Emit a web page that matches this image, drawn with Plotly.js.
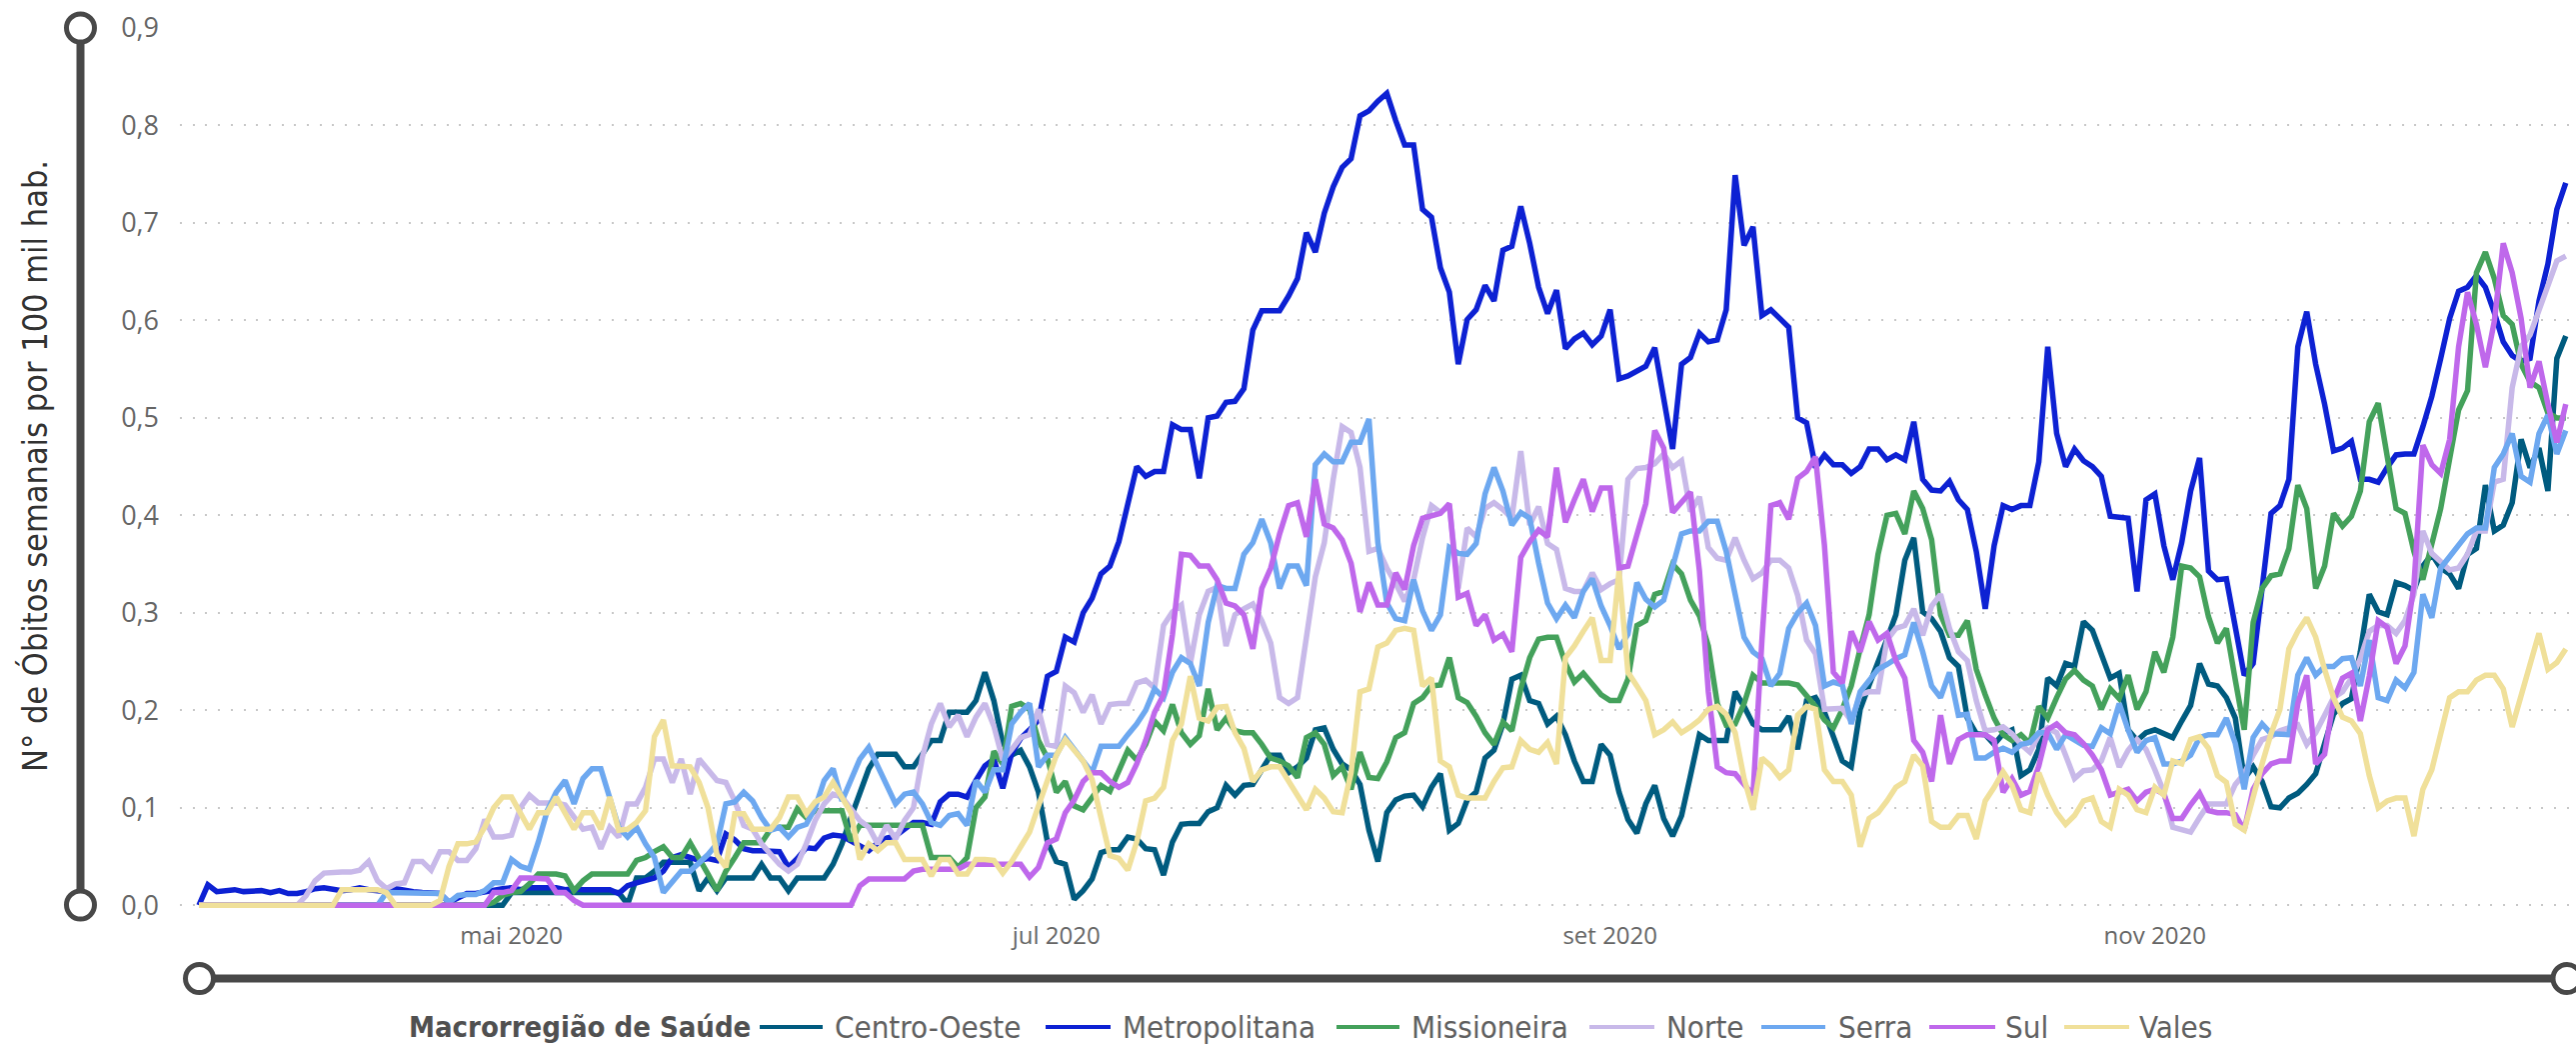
<!DOCTYPE html>
<html>
<head>
<meta charset="utf-8">
<script src="https://cdn.plot.ly/plotly-3.0.1.min.js"></script>
<style>
  html, body { margin: 0; padding: 0; background: #ffffff; }
  #chart { width: 2577px; height: 1045px; }
</style>
</head>
<body>
<div id="chart"></div>
<script>
// ================= DATA =================
// daily series, first value is 27 mar 2020
const firstDay = [2020, 2, 27];

const regions = ['Centro-Oeste', 'Metropolitana', 'Missioneira', 'Norte', 'Serra', 'Sul', 'Vales'];
const colors = ['#005B7F', '#0D21D3', '#44A15B', '#C8B9E9', '#6DA8F0', '#BF68EB', '#F0E09A'];

const xTickDates = ['2020-05-01', '2020-07-01', '2020-09-01', '2020-11-01'];
const xTickText = ['mai 2020', 'jul 2020', 'set 2020', 'nov 2020'];
const yTicks = [0, 0.1, 0.2, 0.3, 0.4, 0.5, 0.6, 0.7, 0.8, 0.9];

const centroOeste = [
  0, 0, 0, 0, 0, 0, 0, 0, 0, 0,
  0, 0, 0, 0, 0, 0, 0, 0, 0, 0,
  0, 0, 0, 0, 0, 0, 0, 0, 0, 0,
  0, 0, 0, 0, 0, 0.013, 0.013, 0.013, 0.013, 0.013,
  0.013, 0.013, 0.013, 0.013, 0.013, 0.013, 0.013, 0.013, 0.001, 0.028,
  0.028, 0.035, 0.044, 0.044, 0.044, 0.044, 0.015, 0.028, 0.015, 0.028,
  0.028, 0.028, 0.028, 0.042, 0.028, 0.028, 0.015, 0.028, 0.028, 0.028,
  0.028, 0.042, 0.063, 0.09, 0.114, 0.14, 0.155, 0.155, 0.155, 0.142,
  0.142, 0.155, 0.169, 0.169, 0.198, 0.198, 0.198, 0.21, 0.239, 0.21,
  0.166, 0.154, 0.159, 0.142, 0.116, 0.065, 0.045, 0.042, 0.006, 0.015,
  0.027, 0.054, 0.057, 0.057, 0.07, 0.068, 0.058, 0.057, 0.031, 0.065,
  0.083, 0.084, 0.084, 0.096, 0.1, 0.123, 0.113, 0.123, 0.124, 0.139,
  0.154, 0.154, 0.136, 0.142, 0.151, 0.18, 0.182, 0.16, 0.145, 0.139,
  0.124, 0.077, 0.045, 0.095, 0.108, 0.112, 0.113, 0.101, 0.121, 0.135,
  0.077, 0.084, 0.108, 0.116, 0.151, 0.159, 0.186, 0.232, 0.236, 0.21,
  0.207, 0.186, 0.194, 0.175, 0.148, 0.127, 0.127, 0.165, 0.154, 0.116,
  0.088, 0.074, 0.104, 0.123, 0.089, 0.071, 0.092, 0.133, 0.175, 0.169,
  0.169, 0.169, 0.219, 0.204, 0.186, 0.18, 0.18, 0.18, 0.194, 0.16,
  0.21, 0.213, 0.198, 0.173, 0.148, 0.142, 0.201, 0.226, 0.248, 0.273,
  0.298, 0.354, 0.377, 0.301, 0.294, 0.281, 0.254, 0.245, 0.192, 0.176,
  0.175, 0.165, 0.176, 0.18, 0.133, 0.139, 0.16, 0.233, 0.225, 0.248,
  0.245, 0.291, 0.282, 0.257, 0.233, 0.238, 0.18, 0.169, 0.177, 0.18,
  0.176, 0.172, 0.189, 0.205, 0.248, 0.227, 0.225, 0.213, 0.192, 0.13,
  0.142, 0.127, 0.101, 0.1, 0.11, 0.115, 0.124, 0.135, 0.166, 0.196,
  0.207, 0.212, 0.26, 0.319, 0.301, 0.298, 0.331, 0.328, 0.323, 0.348,
  0.36, 0.346, 0.34, 0.325, 0.36, 0.366, 0.431, 0.384, 0.39, 0.413,
  0.478, 0.449, 0.469, 0.425, 0.561, 0.584
];

const metropolitana = [
  0, 0.021, 0.014, 0.015, 0.016, 0.014, 0.015, 0.015, 0.013, 0.015,
  0.012, 0.012, 0.014, 0.017, 0.018, 0.017, 0.015, 0.016, 0.018, 0.016,
  0.015, 0.014, 0.017, 0.015, 0.014, 0.013, 0.013, 0.012, 0.003, 0.008,
  0.012, 0.012, 0.014, 0.016, 0.017, 0.018, 0.016, 0.018, 0.018, 0.017,
  0.018, 0.016, 0.017, 0.016, 0.016, 0.016, 0.016, 0.012, 0.02, 0.023,
  0.026, 0.028, 0.035, 0.049, 0.052, 0.049, 0.046, 0.048, 0.046, 0.073,
  0.067, 0.058, 0.056, 0.056, 0.056, 0.055, 0.039, 0.048, 0.059, 0.058,
  0.069, 0.072, 0.071, 0.066, 0.061, 0.056, 0.064, 0.069, 0.071, 0.078,
  0.085, 0.085, 0.083, 0.106, 0.114, 0.114, 0.111, 0.128, 0.143, 0.15,
  0.12, 0.156, 0.171, 0.18, 0.19, 0.235, 0.24, 0.275, 0.27, 0.3,
  0.315, 0.34, 0.348, 0.373, 0.41, 0.45, 0.44, 0.445, 0.445, 0.493,
  0.488, 0.488, 0.438, 0.5, 0.502, 0.516, 0.517, 0.53, 0.59, 0.61,
  0.61, 0.61, 0.625, 0.643, 0.69, 0.67, 0.71, 0.737, 0.757, 0.766,
  0.81, 0.815, 0.825, 0.833, 0.805, 0.78, 0.78, 0.714, 0.706, 0.654,
  0.629, 0.555, 0.601, 0.611, 0.636, 0.62, 0.672, 0.676, 0.717, 0.679,
  0.634, 0.607, 0.631, 0.571, 0.581, 0.587, 0.575, 0.584, 0.611, 0.54,
  0.543, 0.548, 0.553, 0.572, 0.522, 0.468, 0.555, 0.562, 0.587, 0.578,
  0.58, 0.611, 0.749, 0.677, 0.696, 0.605, 0.611, 0.602, 0.593, 0.5,
  0.495, 0.449, 0.462, 0.452, 0.452, 0.443, 0.45, 0.468, 0.468, 0.457,
  0.462, 0.457, 0.496, 0.437, 0.426, 0.425, 0.435, 0.416, 0.406, 0.363,
  0.304, 0.369, 0.41, 0.406, 0.41, 0.41, 0.455, 0.573, 0.484, 0.45,
  0.468, 0.456, 0.45, 0.44, 0.399, 0.398, 0.397, 0.322, 0.416, 0.422,
  0.369, 0.334, 0.372, 0.425, 0.459, 0.343, 0.334, 0.335, 0.284, 0.236,
  0.248, 0.325, 0.402, 0.41, 0.437, 0.573, 0.609, 0.555, 0.514, 0.466,
  0.469, 0.476, 0.437, 0.437, 0.434, 0.449, 0.462, 0.463, 0.463, 0.491,
  0.522, 0.561, 0.602, 0.63, 0.634, 0.646, 0.634, 0.608, 0.578, 0.564,
  0.558, 0.561, 0.62, 0.658, 0.714, 0.741
];

const missioneira = [
  0, 0, 0, 0, 0, 0, 0, 0, 0, 0,
  0, 0, 0, 0, 0, 0, 0, 0, 0, 0,
  0, 0, 0, 0, 0, 0, 0, 0, 0, 0,
  0, 0, 0, 0.003, 0.01, 0.013, 0.014, 0.022, 0.032, 0.032,
  0.032, 0.03, 0.015, 0.025, 0.032, 0.032, 0.032, 0.032, 0.032, 0.046,
  0.049, 0.055, 0.06, 0.049, 0.049, 0.064, 0.049, 0.032, 0.015, 0.035,
  0.049, 0.064, 0.064, 0.064, 0.078, 0.08, 0.08, 0.099, 0.09, 0.097,
  0.097, 0.097, 0.097, 0.066, 0.082, 0.082, 0.082, 0.082, 0.082, 0.082,
  0.082, 0.082, 0.049, 0.049, 0.049, 0.039, 0.049, 0.1, 0.111, 0.158,
  0.145, 0.204, 0.207, 0.201, 0.169, 0.151, 0.116, 0.127, 0.102, 0.098,
  0.111, 0.123, 0.117, 0.139, 0.159, 0.149, 0.165, 0.189, 0.179, 0.206,
  0.177, 0.165, 0.174, 0.222, 0.18, 0.192, 0.179, 0.177, 0.177, 0.165,
  0.151, 0.148, 0.143, 0.131, 0.172, 0.177, 0.165, 0.133, 0.142, 0.119,
  0.157, 0.131, 0.13, 0.147, 0.172, 0.177, 0.207, 0.213, 0.225, 0.226,
  0.254, 0.213, 0.208, 0.194, 0.177, 0.165, 0.188, 0.179, 0.222, 0.254,
  0.273, 0.275, 0.275, 0.248, 0.229, 0.238, 0.228, 0.216, 0.21, 0.21,
  0.232, 0.287, 0.292, 0.319, 0.322, 0.35, 0.34, 0.313, 0.297, 0.266,
  0.207, 0.185, 0.186, 0.207, 0.236, 0.228, 0.228, 0.228, 0.228, 0.226,
  0.215, 0.204, 0.19, 0.182, 0.201, 0.225, 0.263, 0.298, 0.36, 0.4,
  0.402, 0.381, 0.425, 0.407, 0.375, 0.298, 0.277, 0.277, 0.292, 0.242,
  0.216, 0.192, 0.175, 0.169, 0.175, 0.166, 0.204, 0.192, 0.213, 0.232,
  0.241, 0.231, 0.225, 0.201, 0.222, 0.212, 0.236, 0.201, 0.219, 0.26,
  0.239, 0.275, 0.348, 0.346, 0.337, 0.296, 0.269, 0.284, 0.231, 0.18,
  0.29, 0.325, 0.338, 0.34, 0.366, 0.431, 0.407, 0.325, 0.348, 0.402,
  0.389, 0.399, 0.425, 0.496, 0.515, 0.46, 0.407, 0.402, 0.363, 0.334,
  0.372, 0.407, 0.458, 0.508, 0.528, 0.649, 0.67, 0.643, 0.605, 0.596,
  0.555, 0.537, 0.531, 0.505, 0.5, 0.5
];

const norte = [
  0, 0, 0, 0, 0, 0, 0, 0, 0, 0,
  0, 0, 0.01, 0.025, 0.033, 0.034, 0.034, 0.034, 0.036, 0.045,
  0.025, 0.017, 0.022, 0.023, 0.045, 0.045, 0.036, 0.055, 0.055, 0.046,
  0.046, 0.058, 0.088, 0.07, 0.07, 0.072, 0.1, 0.113, 0.105, 0.105,
  0.105, 0.103, 0.09, 0.078, 0.08, 0.058, 0.08, 0.07, 0.104, 0.104,
  0.121, 0.15, 0.15, 0.126, 0.15, 0.114, 0.15, 0.14, 0.128, 0.126,
  0.107, 0.082, 0.078, 0.063, 0.052, 0.042, 0.035, 0.042, 0.063, 0.087,
  0.104, 0.114, 0.111, 0.1, 0.087, 0.08, 0.063, 0.082, 0.068, 0.087,
  0.1, 0.152, 0.186, 0.207, 0.183, 0.195, 0.173, 0.193, 0.207, 0.184,
  0.149, 0.16, 0.172, 0.175, 0.201, 0.165, 0.163, 0.225, 0.218, 0.198,
  0.216, 0.186, 0.206, 0.207, 0.207, 0.228, 0.231, 0.223, 0.287, 0.301,
  0.308, 0.248, 0.298, 0.322, 0.326, 0.266, 0.298, 0.304, 0.309, 0.292,
  0.269, 0.213, 0.207, 0.213, 0.272, 0.337, 0.372, 0.437, 0.491, 0.485,
  0.449, 0.363, 0.366, 0.346, 0.33, 0.312, 0.334, 0.377, 0.41, 0.403,
  0.41, 0.325, 0.387, 0.378, 0.407, 0.413, 0.406, 0.397, 0.466, 0.39,
  0.409, 0.371, 0.365, 0.325, 0.322, 0.322, 0.341, 0.324, 0.33, 0.334,
  0.437, 0.448, 0.449, 0.453, 0.463, 0.449, 0.456, 0.404, 0.419, 0.367,
  0.356, 0.354, 0.377, 0.354, 0.335, 0.341, 0.354, 0.354, 0.346, 0.318,
  0.272, 0.258, 0.201, 0.201, 0.202, 0.189, 0.216, 0.219, 0.219, 0.272,
  0.284, 0.287, 0.304, 0.277, 0.307, 0.319, 0.284, 0.26, 0.251, 0.21,
  0.179, 0.18, 0.183, 0.176, 0.165, 0.157, 0.175, 0.182, 0.177, 0.154,
  0.13, 0.138, 0.139, 0.148, 0.172, 0.142, 0.159, 0.17, 0.16, 0.139,
  0.116, 0.08, 0.078, 0.075, 0.09, 0.104, 0.104, 0.104, 0.124, 0.135,
  0.154, 0.17, 0.173, 0.179, 0.182, 0.185, 0.165, 0.177, 0.195, 0.213,
  0.219, 0.233, 0.253, 0.281, 0.287, 0.287, 0.279, 0.292, 0.319, 0.384,
  0.361, 0.353, 0.344, 0.346, 0.36, 0.384, 0.384, 0.434, 0.437, 0.531,
  0.573, 0.585, 0.611, 0.634, 0.661, 0.666
];

const serra = [
  0, 0, 0, 0, 0, 0, 0, 0, 0, 0,
  0, 0, 0, 0, 0, 0, 0, 0, 0, 0,
  0, 0.013, 0.013, 0.013, 0.013, 0.013, 0.013, 0.012, 0.003, 0.01,
  0.011, 0.011, 0.015, 0.023, 0.023, 0.047, 0.04, 0.037, 0.065, 0.097,
  0.116, 0.128, 0.104, 0.13, 0.14, 0.14, 0.11, 0.08, 0.07, 0.08,
  0.063, 0.049, 0.013, 0.025, 0.035, 0.035, 0.044, 0.052, 0.063, 0.104,
  0.106, 0.116, 0.107, 0.09, 0.077, 0.08, 0.07, 0.08, 0.083, 0.1,
  0.128, 0.14, 0.107, 0.128, 0.15, 0.162, 0.142, 0.121, 0.104, 0.114,
  0.116, 0.104, 0.085, 0.082, 0.092, 0.094, 0.082, 0.128, 0.116, 0.139,
  0.139, 0.186, 0.198, 0.207, 0.142, 0.154, 0.154, 0.172, 0.16, 0.148,
  0.136, 0.163, 0.163, 0.163, 0.175, 0.186, 0.2, 0.222, 0.213, 0.239,
  0.254, 0.248, 0.225, 0.29, 0.328, 0.325, 0.325, 0.36, 0.372, 0.396,
  0.372, 0.325, 0.348, 0.348, 0.328, 0.452, 0.463, 0.455, 0.455, 0.475,
  0.475, 0.499, 0.372, 0.31, 0.294, 0.292, 0.334, 0.302, 0.282, 0.298,
  0.367, 0.361, 0.36, 0.371, 0.422, 0.449, 0.425, 0.39, 0.403, 0.397,
  0.351, 0.31, 0.294, 0.308, 0.295, 0.322, 0.335, 0.307, 0.287, 0.263,
  0.278, 0.331, 0.314, 0.306, 0.313, 0.346, 0.381, 0.384, 0.384, 0.394,
  0.394, 0.363, 0.319, 0.275, 0.26, 0.253, 0.225, 0.238, 0.284, 0.3,
  0.31, 0.287, 0.225, 0.229, 0.226, 0.186, 0.219, 0.231, 0.242, 0.247,
  0.253, 0.257, 0.29, 0.26, 0.225, 0.213, 0.239, 0.195, 0.196, 0.151,
  0.151, 0.157, 0.161, 0.157, 0.165, 0.167, 0.177, 0.177, 0.16, 0.175,
  0.17, 0.164, 0.163, 0.182, 0.176, 0.207, 0.18, 0.157, 0.169, 0.172,
  0.145, 0.145, 0.148, 0.154, 0.172, 0.175, 0.175, 0.192, 0.166, 0.119,
  0.172, 0.186, 0.176, 0.175, 0.175, 0.236, 0.254, 0.236, 0.245, 0.245,
  0.253, 0.254, 0.225, 0.272, 0.213, 0.21, 0.231, 0.223, 0.239, 0.319,
  0.295, 0.346, 0.357, 0.369, 0.381, 0.387, 0.387, 0.449, 0.463, 0.484,
  0.44, 0.434, 0.484, 0.503, 0.463, 0.487
];

const sul = [
  0, 0, 0, 0, 0, 0, 0, 0, 0, 0,
  0, 0, 0, 0, 0, 0, 0, 0, 0, 0,
  0, 0, 0, 0, 0, 0, 0, 0, 0, 0,
  0, 0, 0, 0.013, 0.013, 0.015, 0.028, 0.028, 0.028, 0.027,
  0.013, 0.013, 0.005, 0, 0, 0, 0, 0, 0, 0,
  0, 0, 0, 0, 0, 0, 0, 0, 0, 0,
  0, 0, 0, 0, 0, 0, 0, 0, 0, 0,
  0, 0, 0, 0, 0.02, 0.027, 0.027, 0.027, 0.027, 0.027,
  0.035, 0.037, 0.037, 0.037, 0.037, 0.037, 0.042, 0.042, 0.042, 0.042,
  0.042, 0.042, 0.042, 0.029, 0.039, 0.064, 0.068, 0.095, 0.108, 0.127,
  0.136, 0.136, 0.127, 0.121, 0.126, 0.145, 0.169, 0.198, 0.216, 0.278,
  0.36, 0.359, 0.348, 0.348, 0.334, 0.31, 0.307, 0.298, 0.263, 0.325,
  0.346, 0.381, 0.41, 0.413, 0.378, 0.437, 0.391, 0.387, 0.375, 0.351,
  0.301, 0.331, 0.308, 0.308, 0.341, 0.324, 0.369, 0.397, 0.4, 0.402,
  0.412, 0.316, 0.32, 0.287, 0.298, 0.272, 0.278, 0.26, 0.357, 0.373,
  0.385, 0.378, 0.449, 0.393, 0.416, 0.437, 0.404, 0.428, 0.428, 0.346,
  0.348, 0.379, 0.412, 0.487, 0.469, 0.403, 0.413, 0.424, 0.343, 0.219,
  0.142, 0.136, 0.135, 0.124, 0.113, 0.272, 0.41, 0.413, 0.396, 0.438,
  0.445, 0.46, 0.369, 0.239, 0.228, 0.281, 0.26, 0.291, 0.272, 0.279,
  0.251, 0.233, 0.169, 0.157, 0.127, 0.195, 0.145, 0.17, 0.175, 0.175,
  0.175, 0.169, 0.116, 0.13, 0.113, 0.117, 0.143, 0.18, 0.186, 0.177,
  0.175, 0.166, 0.154, 0.139, 0.113, 0.116, 0.119, 0.107, 0.116, 0.119,
  0.114, 0.089, 0.089, 0.103, 0.115, 0.097, 0.095, 0.095, 0.093, 0.077,
  0.119, 0.135, 0.145, 0.148, 0.148, 0.207, 0.236, 0.145, 0.155, 0.21,
  0.233, 0.238, 0.189, 0.235, 0.292, 0.285, 0.248, 0.266, 0.328, 0.472,
  0.452, 0.443, 0.478, 0.573, 0.629, 0.596, 0.552, 0.599, 0.679, 0.649,
  0.602, 0.531, 0.558, 0.514, 0.475, 0.514
];

const vales = [
  0, 0, 0, 0, 0, 0, 0, 0, 0, 0,
  0, 0, 0, 0, 0, 0, 0.016, 0.016, 0.016, 0.016,
  0.016, 0.013, 0, 0, 0, 0, 0, 0.005, 0.04, 0.063,
  0.063, 0.065, 0.08, 0.1, 0.111, 0.111, 0.095, 0.078, 0.095, 0.095,
  0.111, 0.095, 0.078, 0.095, 0.095, 0.078, 0.111, 0.077, 0.078, 0.085,
  0.097, 0.173, 0.19, 0.143, 0.143, 0.142, 0.126, 0.1, 0.052, 0.039,
  0.094, 0.094, 0.078, 0.078, 0.078, 0.09, 0.111, 0.111, 0.094, 0.106,
  0.111, 0.126, 0.111, 0.095, 0.047, 0.063, 0.056, 0.064, 0.064, 0.047,
  0.047, 0.047, 0.03, 0.047, 0.047, 0.032, 0.032, 0.047, 0.047, 0.046,
  0.033, 0.045, 0.06, 0.075, 0.102, 0.13, 0.154, 0.17, 0.16, 0.148,
  0.129, 0.089, 0.051, 0.048, 0.036, 0.065, 0.107, 0.11, 0.121, 0.169,
  0.186, 0.235, 0.192, 0.189, 0.203, 0.204, 0.177, 0.161, 0.127, 0.139,
  0.142, 0.142, 0.127, 0.113, 0.098, 0.119, 0.11, 0.096, 0.095, 0.136,
  0.219, 0.222, 0.265, 0.269, 0.282, 0.284, 0.282, 0.225, 0.233, 0.148,
  0.142, 0.113, 0.11, 0.11, 0.11, 0.127, 0.141, 0.142, 0.169, 0.16,
  0.157, 0.167, 0.145, 0.254, 0.266, 0.281, 0.295, 0.251, 0.251, 0.343,
  0.239, 0.225, 0.21, 0.175, 0.18, 0.188, 0.177, 0.183, 0.19, 0.201,
  0.204, 0.196, 0.177, 0.13, 0.098, 0.151, 0.143, 0.131, 0.139, 0.195,
  0.204, 0.201, 0.139, 0.127, 0.127, 0.113, 0.06, 0.089, 0.095, 0.107,
  0.121, 0.127, 0.154, 0.143, 0.086, 0.08, 0.08, 0.092, 0.092, 0.068,
  0.107, 0.121, 0.137, 0.123, 0.098, 0.095, 0.136, 0.113, 0.095, 0.083,
  0.092, 0.107, 0.11, 0.086, 0.08, 0.119, 0.113, 0.098, 0.095, 0.121,
  0.113, 0.148, 0.145, 0.17, 0.173, 0.161, 0.133, 0.126, 0.083, 0.077,
  0.113, 0.145, 0.176, 0.201, 0.263, 0.281, 0.295, 0.275, 0.242, 0.213,
  0.193, 0.189, 0.176, 0.133, 0.1, 0.107, 0.11, 0.11, 0.071, 0.119,
  0.139, 0.177, 0.213, 0.219, 0.219, 0.231, 0.236, 0.236, 0.222, 0.183,
  0.214, 0.248, 0.279, 0.242, 0.249, 0.263
];

const seriesValues = [centroOeste, metropolitana, missioneira, norte, serra, sul, vales];

// ================= GEOMETRY (pixels of the 2577x1045 page) =================
const W = 2577, H = 1045;
const M = { l: 180, r: 0, t: 28, b: 130 };
const plotW = W - M.l - M.r, plotH = H - M.t - M.b;
const firstPx = 199, pxPerDay = 8.935;   // where day 0 sits, and day spacing
const DAY = 86400000;
const t0 = Date.UTC(firstDay[0], firstDay[1], firstDay[2]);

function px2x(px) { return (px - M.l) / plotW; }
function py2y(py) { return (H - M.b - py) / plotH; }

function dayList(n) {
    let out = [];
    for (let i = 0; i < n; i++) out.push(new Date(t0 + i * DAY).toISOString().slice(0, 10));
    return out;
}

// ================= TRACES =================
let traces = regions.map((name, i) => ({
    x: dayList(seriesValues[i].length),
    y: seriesValues[i],
    type: 'scatter', mode: 'lines', name: name,
    line: { color: colors[i], width: 5.5 },
    hoverinfo: 'skip', showlegend: false
}));

// ================= DECORATION: the two slider bars =================
const barColor = '#484848';
function knob(cx, cy) {
    return { type: 'circle', xref: 'paper', yref: 'paper', layer: 'above',
        x0: px2x(cx - 14), x1: px2x(cx + 14), y0: py2y(cy + 14), y1: py2y(cy - 14),
        fillcolor: '#ffffff', line: { color: barColor, width: 5 } };
}
let shapes = [
    { type: 'line', xref: 'paper', yref: 'paper', layer: 'above',
      x0: px2x(80.5), x1: px2x(80.5), y0: py2y(28), y1: py2y(905),
      line: { color: barColor, width: 8 } },
    knob(80.5, 28), knob(80.5, 905),
    { type: 'line', xref: 'paper', yref: 'paper', layer: 'above',
      x0: px2x(199.5), x1: px2x(2568), y0: py2y(978.5), y1: py2y(978.5),
      line: { color: barColor, width: 8 } },
    knob(199.5, 978.5), knob(2568, 978.5)
];

// ================= LEGEND (drawn by hand to sit like the original) =================
const legendY = 1027;
const legendFont = '"DejaVu Sans Condensed", "Liberation Sans Narrow", "DejaVu Sans", sans-serif';
const swatchX = [[760, 823], [1046, 1111], [1337, 1400], [1590, 1655], [1762, 1826], [1930, 1996], [2065, 2130]];
const labelX = [833, 1121, 1410, 1665, 1837, 2004, 2138];

let annotations = [
    { text: 'Macrorregião de Saúde', xref: 'paper', yref: 'paper', showarrow: false,
      x: px2x(407), y: py2y(legendY), xanchor: 'left', yanchor: 'middle',
      font: { family: legendFont, size: 29, color: '#505050', weight: 'bold' } },
    { text: 'N° de Óbitos semanais por 100 mil hab.', xref: 'paper', yref: 'paper', showarrow: false,
      x: px2x(35), y: py2y(466), xanchor: 'center', yanchor: 'middle', textangle: -90,
      font: { family: legendFont, size: 34, color: '#333333' } }
];

regions.forEach((name, i) => {
    shapes.push({ type: 'line', xref: 'paper', yref: 'paper', layer: 'above',
        x0: px2x(swatchX[i][0]), x1: px2x(swatchX[i][1]), y0: py2y(legendY), y1: py2y(legendY),
        line: { color: colors[i], width: 4 } });
    annotations.push({ text: name, xref: 'paper', yref: 'paper', showarrow: false,
        x: px2x(labelX[i]), y: py2y(legendY), xanchor: 'left', yanchor: 'middle',
        font: { family: legendFont, size: 31, color: '#606060' } });
});

// ================= LAYOUT =================
let layout = {
    width: W, height: H,
    margin: { l: M.l, r: M.r, t: M.t, b: M.b, pad: 0 },
    paper_bgcolor: '#ffffff', plot_bgcolor: '#ffffff',
    separators: ',.',
    showlegend: false,
    xaxis: {
        type: 'date',
        range: [t0 - (firstPx - M.l) / pxPerDay * DAY, t0 + (W - M.r - firstPx) / pxPerDay * DAY],
        tickvals: xTickDates, ticktext: xTickText,
        showgrid: false, zeroline: false, showline: false, ticks: '',
        tickfont: { family: '"Open Sans", sans-serif', size: 24, color: '#666666' },
        ticklabelstandoff: 4,
        automargin: false, fixedrange: true
    },
    yaxis: {
        range: [-0.01, 0.9],
        tickvals: yTicks, tickformat: '.1f',
        showgrid: true, gridcolor: '#C8C8C8', gridwidth: 2, griddash: '2px,10.7px',
        zeroline: false, showline: false, ticks: '',
        tickfont: { family: '"Open Sans", sans-serif', size: 27, color: '#666666' },
        ticklabelstandoff: 20,
        automargin: false, fixedrange: true
    },
    shapes: shapes,
    annotations: annotations
};

Plotly.newPlot('chart', traces, layout, { displayModeBar: false, staticPlot: true });
</script>
</body>
</html>
